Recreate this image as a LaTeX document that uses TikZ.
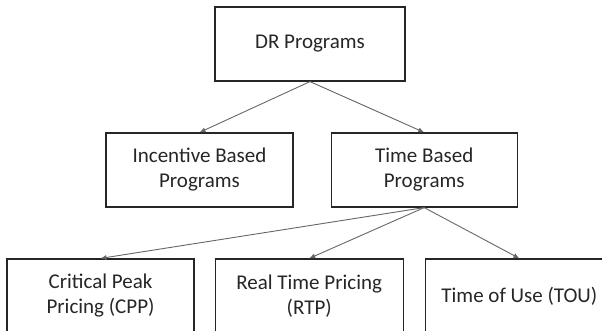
\documentclass[tikz,border=0pt]{standalone}
\usepackage{fontspec}
\setmainfont{Carlito}
\usetikzlibrary{positioning,arrows.meta}

\begin{document}
\begin{tikzpicture}[x=1pt, y=-1pt,
                    prog/.style={draw=black!85, line width=1.2pt, minimum width=187pt, minimum height=74pt, inner sep=0pt, align=center, text=black!85, font=\fontsize{21}{25}\selectfont},
                    link/.style={draw=black!60, line width=0.9pt, -{Latex[length=6pt, width=5pt]}},
                ]
                \clip (0,0) rectangle (602,331);
                %Nodes
                \node[prog, minimum width=190pt] (dr) at (310,44) {DR Programs};
                \node[prog] (ib) at (199.5,170)                 {Incentive Based\\Programs};
                \node[prog, minimum width=186pt] (tb) [right=37pt of ib] {Time Based\\Programs};
                \node[prog] (cpp) at (100.5,296)                {Critical Peak\\Pricing (CPP)};
                \node[prog, minimum width=188pt] (rtp) [right=20pt of cpp] {Real Time Pricing\\(RTP)};
                \node[prog, minimum width=188pt] (tou) [right=21pt of rtp] {Time of Use (TOU)};
                %Links
                \draw[link] (dr.south) -- (ib.north);
                \draw[link] (dr.south) -- (tb.north);
                \draw[link] (tb.south) -- (cpp.north);
                \draw[link] (tb.south) -- (rtp.north);
                \draw[link] (tb.south) -- (tou.north);
            \end{tikzpicture}
\end{document}
